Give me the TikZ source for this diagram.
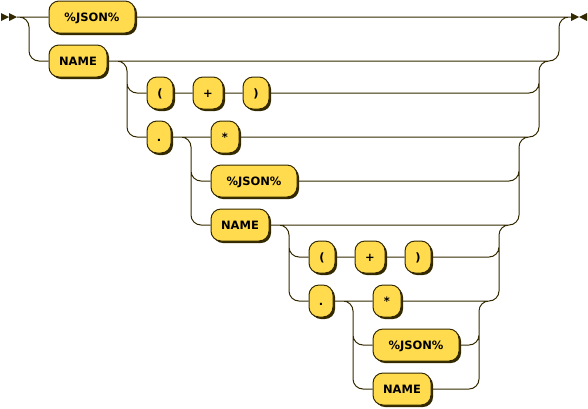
\documentclass[tikz,border=0pt]{standalone}
\usepackage{fontspec}
\setmainfont{DejaVu Sans}
\usetikzlibrary{shadows}
\definecolor{rrline}{RGB}{51,41,0}
\definecolor{rrfill}{RGB}{255,219,77}
\begin{document}
\begin{tikzpicture}[x=1pt, y=-1pt,
  term/.style={draw=rrline, fill=rrfill, line width=1pt, rounded corners=10pt,
    minimum height=32pt, inner sep=0pt, text height=8.5pt, text depth=0pt,
    font=\bfseries\fontsize{11.5}{12}\selectfont,
    general shadow={fill=rrline, shadow xshift=2pt, shadow yshift=-2pt}},
  rail/.style={draw=rrline, line width=1pt, rounded corners=10pt}]
\useasboundingbox (0,0) rectangle (588,408);

\coordinate (start) at (17,17);
\coordinate (stop) at (571,17);
\coordinate (s1) at (29,17);   \coordinate (t1) at (559,17); \coordinate (m1) at (569,17);
\coordinate (s2) at (127,61);  \coordinate (t2) at (539,61); \coordinate (m2) at (549,61);
\coordinate (s3) at (191,137); \coordinate (t3) at (519,137); \coordinate (m3) at (529,137);
\coordinate (s4) at (289,225); \coordinate (t4) at (499,225); \coordinate (m4) at (509,225);
\coordinate (s5) at (353,301); \coordinate (t5) at (479,301); \coordinate (m5) at (489,301);

\node[term, minimum width=86pt] (json1) at (92,17) {\%JSON\%};
\node[term, minimum width=58pt] (name1) at (78,61) {NAME};
\node[term, minimum width=26pt] (lp1) at (160,93) {(};
\node[term, minimum width=30pt] (plus1) at (208,93) {+};
\node[term, minimum width=26pt] (rp1) at (256,93) {)};
\node[term, minimum width=24pt] (dot1) at (159,137) {.};
\node[term, minimum width=28pt] (star1) at (225,137) {*};
\node[term, minimum width=86pt] (json2) at (254,181) {\%JSON\%};
\node[term, minimum width=58pt] (name2) at (240,225) {NAME};
\node[term, minimum width=26pt] (lp2) at (322,257) {(};
\node[term, minimum width=30pt] (plus2) at (370,257) {+};
\node[term, minimum width=26pt] (rp2) at (418,257) {)};
\node[term, minimum width=24pt] (dot2) at (321,301) {.};
\node[term, minimum width=28pt] (star2) at (387,301) {*};
\node[term, minimum width=86pt] (json3) at (416,345) {\%JSON\%};
\node[term, minimum width=58pt] (name3) at (402,389) {NAME};

% start and end marks
\fill[rrline] (start) -- ++(-8,-4) -- ++(0,8) -- cycle;
\fill[rrline] (start) ++(-8,0) -- ++(-8,-4) -- ++(0,8) -- cycle;
\fill[rrline] (stop) ++(8,0) -- ++(-8,-4) -- ++(0,8) -- cycle;
\fill[rrline] (stop) ++(8,0) -- ++(8,-4) -- ++(0,8) -- cycle;

% all tracks in one path
\draw[rail]
  (start) -- (json1.west) (json1.east) -- (stop)
  (start) -- (s1) |- (name1.west)
  (name1.east) -| (t1) -- (m1)
  (name1.east) -- (s2) |- (lp1.west)
  (name1.east) -- (s2) |- (dot1.west)
  (lp1.east) -- (plus1.west) (plus1.east) -- (rp1.west)
  (rp1.east) -| (t2) -- (m2)
  (dot1.east) -- (star1.west)
  (dot1.east) -- (s3) |- (json2.west)
  (dot1.east) -- (s3) |- (name2.west)
  (star1.east) -| (t2) -- (m2)
  (json2.east) -| (t3) -- (m3)
  (name2.east) -| (t3) -- (m3)
  (name2.east) -- (s4) |- (lp2.west)
  (name2.east) -- (s4) |- (dot2.west)
  (lp2.east) -- (plus2.west) (plus2.east) -- (rp2.west)
  (rp2.east) -| (t4) -- (m4)
  (dot2.east) -- (star2.west)
  (dot2.east) -- (s5) |- (json3.west)
  (dot2.east) -- (s5) |- (name3.west)
  (star2.east) -| (t4) -- (m4)
  (json3.east) -| (t5) -- (m5)
  (name3.east) -| (t5) -- (m5);
\end{tikzpicture}
\end{document}
